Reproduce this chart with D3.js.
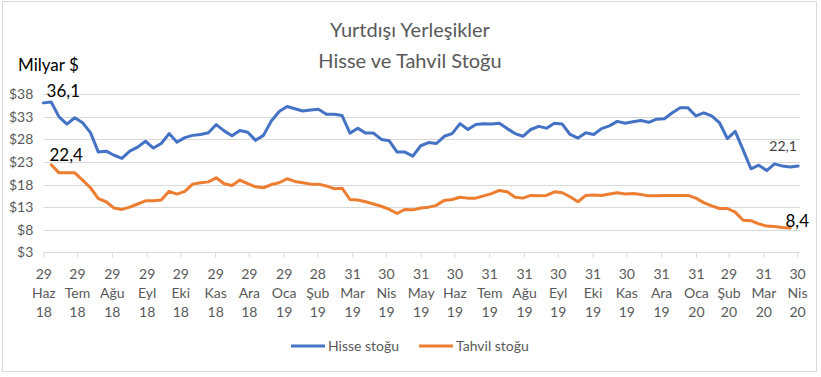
<!DOCTYPE html>
<html>
<head>
<meta charset="utf-8">
<script src="https://cdn.jsdelivr.net/npm/d3@7"></script>
<style>
  body { margin: 0; background: #fff; }
  svg { font-family: "Lato", "Open Sans", sans-serif; }
</style>
</head>
<body>
<div id="chart"></div>
<script>
// haftalik veriler, 29 Haz 2018 - 1 May 2020
const startDate = "2018-06-29";
const endDate = "2020-05-02";

const hisse = [
    36.1, 36.3, 33.0, 31.4, 32.8, 31.7, 29.5, 25.2, 25.4, 24.5,
    23.8, 25.4, 26.3, 27.6, 26.1, 27.1, 29.3, 27.4, 28.4, 28.9,
    29.1, 29.5, 31.3, 29.9, 28.8, 30.0, 29.6, 27.8, 28.9, 32.1,
    34.2, 35.3, 34.8, 34.3, 34.5, 34.7, 33.6, 33.6, 33.3, 29.4,
    30.5, 29.4, 29.4, 28.0, 27.7, 25.2, 25.2, 24.3, 26.6, 27.3,
    27.1, 28.7, 29.3, 31.5, 30.2, 31.3, 31.5, 31.4, 31.6, 30.4,
    29.3, 28.7, 30.2, 30.9, 30.5, 31.6, 31.4, 29.1, 28.3, 29.5,
    29.1, 30.4, 31.0, 32.0, 31.6, 31.9, 32.2, 31.8, 32.5, 32.6,
    33.9, 35.0, 35.0, 33.2, 33.9, 33.2, 31.7, 28.2, 29.8, 25.7,
    21.5, 22.3, 21.1, 22.6, 22.1, 21.9, 22.1
];

const tahvil = [
    null, 22.4, 20.6, 20.6, 20.6, 19.0, 17.3, 14.9, 14.2, 12.8,
    12.5, 13.0, 13.7, 14.4, 14.4, 14.6, 16.5, 15.9, 16.5, 18.1,
    18.4, 18.6, 19.5, 18.2, 17.8, 19.0, 18.2, 17.5, 17.3, 18.0,
    18.4, 19.3, 18.7, 18.4, 18.1, 18.1, 17.7, 17.1, 17.2, 14.7,
    14.6, 14.2, 13.7, 13.2, 12.5, 11.6, 12.5, 12.4, 12.8, 13.0,
    13.4, 14.5, 14.7, 15.2, 15.0, 15.0, 15.5, 16.0, 16.7, 16.4,
    15.2, 15.0, 15.6, 15.5, 15.6, 16.4, 16.2, 15.3, 14.2, 15.6,
    15.7, 15.6, 15.9, 16.2, 15.9, 16.0, 15.8, 15.5, 15.5, 15.6,
    15.6, 15.6, 15.6, 15.0, 14.0, 13.3, 12.7, 12.7, 11.9, 10.1,
    10.0, 9.3, 8.8, 8.7, 8.5, 8.4, null
];

const tickDates = [
    "2018-06-29", "2018-07-29", "2018-08-29", "2018-09-29", "2018-10-29", "2018-11-29",
    "2018-12-29", "2019-01-29", "2019-02-28", "2019-03-31", "2019-04-30", "2019-05-31",
    "2019-06-30", "2019-07-31", "2019-08-31", "2019-09-30", "2019-10-31", "2019-11-30",
    "2019-12-31", "2020-01-31", "2020-02-29", "2020-03-31", "2020-04-30"
];
const aylar = ["Oca", "Şub", "Mar", "Nis", "May", "Haz", "Tem", "Ağu", "Eyl", "Eki", "Kas", "Ara"];
const yTicks = [3, 8, 13, 18, 23, 28, 33, 38];
const seriesNames = ["Hisse stoğu", "Tahvil stoğu"];
const colors = ["#4472C4", "#ED7D31"];

const parse = d3.utcParse("%Y-%m-%d");
let weeks = d3.utcDay.range(parse(startDate), parse(endDate), 7);

let width = 821, height = 377;

let svg = d3.select("#chart")
    .append("svg")
    .attr("width", width)
    .attr("height", height);

svg.append("rect")
    .attr("x", 2.5).attr("y", 1.5)
    .attr("width", 814).attr("height", 370)
    .attr("fill", "#fff")
    .attr("stroke", "#d9d9d9");

let x = d3.scaleUtc()
    .domain([parse(tickDates[0]), parse(tickDates[tickDates.length - 1])])
    .range([43.3, 797]);

let y = d3.scaleLinear()
    .domain([3, 38])
    .range([252.3, 94.3]);

// grid
svg.append("g")
    .selectAll("line")
    .data(yTicks)
    .enter()
    .append("line")
    .attr("x1", 43.3)
    .attr("x2", 800)
    .attr("y1", d => Math.round(y(d)) + 0.5)
    .attr("y2", d => Math.round(y(d)) + 0.5)
    .attr("stroke", "#d9d9d9");

let yAxis = svg.append("g")
    .attr("transform", "translate(43.3,0)")
    .call(d3.axisLeft(y).tickValues(yTicks).tickSize(0).tickPadding(10).tickFormat(d => "$" + d));
yAxis.select(".domain").remove();
yAxis.selectAll("text")
    .attr("fill", "#595959")
    .attr("font-size", 14)
    .attr("font-family", "Lato, sans-serif");

let xAxis = svg.append("g")
    .attr("transform", "translate(0," + (Math.round(y(3)) + 0.5) + ")")
    .call(d3.axisBottom(x).tickValues(tickDates.map(parse)).tickSize(5).tickFormat(""));
xAxis.select(".domain")
    .attr("stroke", "#d9d9d9")
    .attr("d", "M43.3,0H800");
xAxis.selectAll(".tick line").attr("stroke", "#d9d9d9");

xAxis.selectAll(".tick")
    .append("text")
    .attr("fill", "#595959")
    .attr("font-size", 14)
    .attr("font-family", "Lato, sans-serif")
    .attr("text-anchor", "middle")
    .each(function (d) {
        let t = d3.select(this);
        let lines = [d.getUTCDate(), aylar[d.getUTCMonth()], String(d.getUTCFullYear()).slice(2)];
        lines.forEach(function (l, i) {
            t.append("tspan")
                .attr("x", 0)
                .attr("y", 26 + i * 19)
                .text(l);
        });
    });

let line = d3.line()
    .defined(d => d[1] != null)
    .x(d => x(d[0]))
    .y(d => y(d[1]));

[hisse, tahvil].forEach(function (s, i) {
    svg.append("path")
        .datum(weeks.map((w, j) => [w, s[j]]))
        .attr("fill", "none")
        .attr("stroke", colors[i])
        .attr("stroke-width", 3)
        .attr("stroke-linejoin", "round")
        .attr("stroke-linecap", "round")
        .attr("d", line);
});

// veri etiketleri
let fmt = v => String(v).replace(".", ",");
let labels = [
    { date: weeks[0], v: hisse[0], dx: 20, dy: -6, size: 17, color: "#000" },
    { date: weeks[1], v: tahvil[1], dx: 15, dy: -4, size: 17, color: "#000" },
    { date: weeks[96], v: hisse[96], dx: -15, dy: -15, size: 14, color: "#404040" },
    { date: weeks[95], v: tahvil[95], dx: 7, dy: -1, size: 17, color: "#000" }
];
svg.selectAll(".lbl")
    .data(labels)
    .enter()
    .append("text")
    .attr("class", "lbl")
    .attr("x", d => x(d.date) + d.dx)
    .attr("y", d => y(d.v) + d.dy)
    .attr("text-anchor", "middle")
    .attr("font-size", d => d.size)
    .attr("fill", d => d.color)
    .text(d => fmt(d.v));

svg.append("text")
    .attr("x", 18).attr("y", 71)
    .attr("font-size", 17)
    .attr("fill", "#000")
    .text("Milyar $");

let title = svg.append("text")
    .attr("text-anchor", "middle")
    .attr("font-size", 20)
    .attr("fill", "#595959");
title.append("tspan").attr("x", 410).attr("y", 37).text("Yurtdışı Yerleşikler");
title.append("tspan").attr("x", 410).attr("y", 68).text("Hisse ve Tahvil Stoğu");

// legend
let legend = svg.append("g")
    .selectAll("g")
    .data(seriesNames)
    .enter()
    .append("g")
    .attr("transform", (d, i) => "translate(" + [291, 419][i] + ",346)");
legend.append("line")
    .attr("x1", 0).attr("x2", 34)
    .attr("stroke", (d, i) => colors[i])
    .attr("stroke-width", 3);
legend.append("text")
    .attr("x", 37).attr("y", 5)
    .attr("font-size", 14)
    .attr("fill", "#595959")
    .text(d => d);
</script>
</body>
</html>
